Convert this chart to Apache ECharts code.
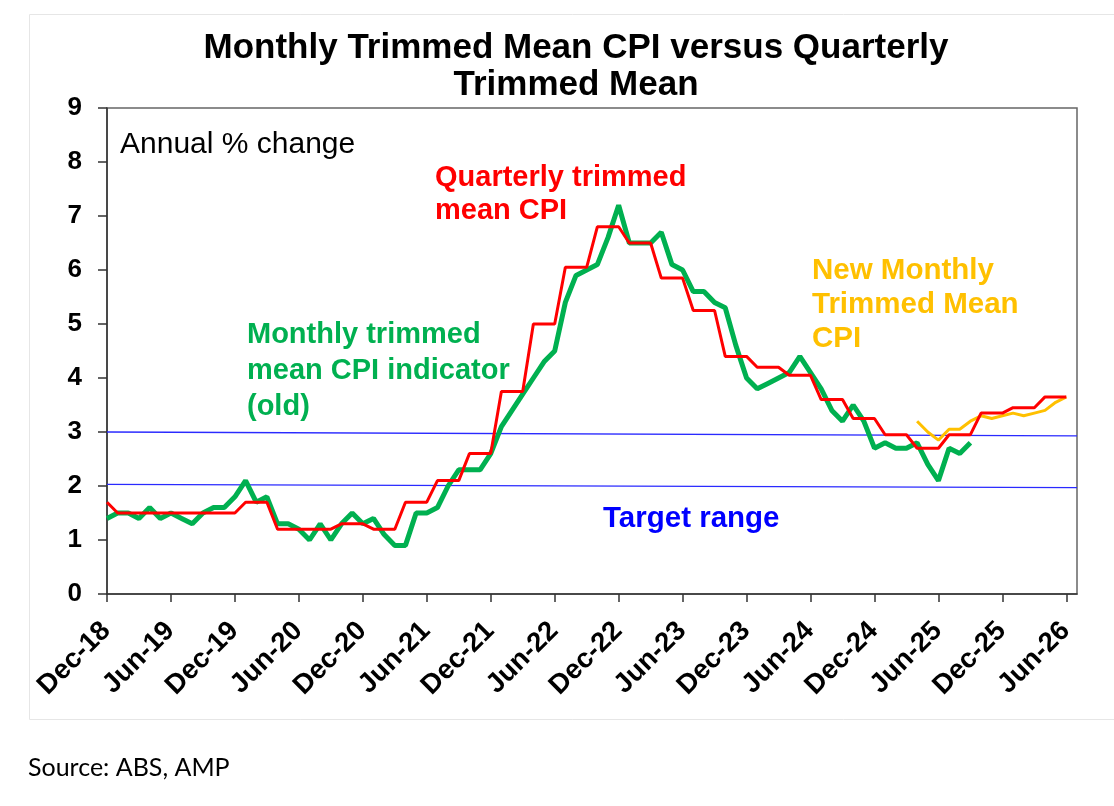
<!DOCTYPE html>
<html>
<head>
<meta charset="utf-8">
<title>Monthly Trimmed Mean CPI versus Quarterly Trimmed Mean</title>
<script src="https://cdn.jsdelivr.net/npm/echarts@6/dist/echarts.min.js"></script>
<style>
  html, body { margin: 0; padding: 0; background: #fff; }
  #main { width: 1114px; height: 806px; }
</style>
</head>
<body>
<div id="main"></div>
<script>
// months on the x axis, Dec-18 .. Jul-26 (last one is just axis room)
var months = [
  'Dec-18',
  'Jan-19','Feb-19','Mar-19','Apr-19','May-19','Jun-19','Jul-19','Aug-19','Sep-19','Oct-19','Nov-19','Dec-19',
  'Jan-20','Feb-20','Mar-20','Apr-20','May-20','Jun-20','Jul-20','Aug-20','Sep-20','Oct-20','Nov-20','Dec-20',
  'Jan-21','Feb-21','Mar-21','Apr-21','May-21','Jun-21','Jul-21','Aug-21','Sep-21','Oct-21','Nov-21','Dec-21',
  'Jan-22','Feb-22','Mar-22','Apr-22','May-22','Jun-22','Jul-22','Aug-22','Sep-22','Oct-22','Nov-22','Dec-22',
  'Jan-23','Feb-23','Mar-23','Apr-23','May-23','Jun-23','Jul-23','Aug-23','Sep-23','Oct-23','Nov-23','Dec-23',
  'Jan-24','Feb-24','Mar-24','Apr-24','May-24','Jun-24','Jul-24','Aug-24','Sep-24','Oct-24','Nov-24','Dec-24',
  'Jan-25','Feb-25','Mar-25','Apr-25','May-25','Jun-25','Jul-25','Aug-25','Sep-25','Oct-25','Nov-25','Dec-25',
  'Jan-26','Feb-26','Mar-26','Apr-26','May-26','Jun-26','Jul-26'
];

// labels shown every 6 months
var tickLabels = ['Dec-18','Jun-19','Dec-19','Jun-20','Dec-20','Jun-21','Dec-21','Jun-22',
  'Dec-22','Jun-23','Dec-23','Jun-24','Dec-24','Jun-25','Dec-25','Jun-26'];

// old monthly trimmed mean CPI indicator, Dec-18 .. Sep-25
var monthlyOld = [
  1.4,
  1.5, 1.5, 1.4, 1.6, 1.4, 1.5, 1.4, 1.3, 1.5, 1.6, 1.6, 1.8,
  2.1, 1.7, 1.8, 1.3, 1.3, 1.2, 1.0, 1.3, 1.0, 1.3, 1.5, 1.3,
  1.4, 1.1, 0.9, 0.9, 1.5, 1.5, 1.6, 2.0, 2.3, 2.3, 2.3, 2.6,
  3.1, 3.4, 3.7, 4.0, 4.3, 4.5, 5.4, 5.9, 6.0, 6.1, 6.6, 7.2,
  6.5, 6.5, 6.5, 6.7, 6.1, 6.0, 5.6, 5.6, 5.4, 5.3, 4.6, 4.0,
  3.8, 3.9, 4.0, 4.1, 4.4, 4.1, 3.8, 3.4, 3.2, 3.5, 3.2, 2.7,
  2.8, 2.7, 2.7, 2.8, 2.4, 2.1, 2.7, 2.6, 2.8
];

// quarterly trimmed mean, each quarter held over its three months
var quarterly = [
  1.7,
  1.5, 1.5, 1.5, 1.5, 1.5, 1.5, 1.5, 1.5, 1.5, 1.5, 1.5, 1.5,
  1.7, 1.7, 1.7, 1.2, 1.2, 1.2, 1.2, 1.2, 1.2, 1.3, 1.3, 1.3,
  1.2, 1.2, 1.2, 1.7, 1.7, 1.7, 2.1, 2.1, 2.1, 2.6, 2.6, 2.6,
  3.75, 3.75, 3.75, 5.0, 5.0, 5.0, 6.05, 6.05, 6.05, 6.8, 6.8, 6.8,
  6.5, 6.5, 6.5, 5.85, 5.85, 5.85, 5.25, 5.25, 5.25, 4.4, 4.4, 4.4,
  4.2, 4.2, 4.2, 4.05, 4.05, 4.05, 3.6, 3.6, 3.6, 3.25, 3.25, 3.25,
  2.95, 2.95, 2.95, 2.7, 2.7, 2.7, 2.95, 2.95, 2.95, 3.35, 3.35, 3.35,
  3.45, 3.45, 3.45, 3.65, 3.65, 3.65
];

// new monthly trimmed mean CPI, Apr-25 .. Jun-26
var newMonthlyStart = 'Apr-25';
var newMonthly = [3.2, 3.0, 2.85, 3.05, 3.05, 3.2, 3.3, 3.25, 3.3, 3.35, 3.3, 3.35, 3.4, 3.55, 3.65];

// RBA target band (drawn slightly sloping as in the source)
var targetTop = [3.0, 2.93];
var targetBottom = [2.03, 1.97];

var yTicks = [0, 1, 2, 3, 4, 5, 6, 7, 8, 9];

// pad the new series so it sits on the right months
var newData = [];
var off = months.indexOf(newMonthlyStart);
for (var i = 0; i < off; i++) newData.push(null);
newData = newData.concat(newMonthly);

var lastMonth = months[months.length - 1];

var myChart = echarts.init(document.getElementById('main'));

var bold = 'bold';
var ff = 'Arial, "Liberation Sans", sans-serif';

var option = {
  animation: false,
  backgroundColor: '#fff',
  title: {
    text: 'Monthly Trimmed Mean CPI versus Quarterly\nTrimmed Mean',
    left: 571,
    top: 25,
    textAlign: 'center',
    textStyle: {
      fontFamily: ff,
      fontWeight: bold,
      fontSize: 35,
      lineHeight: 37,
      color: '#000'
    }
  },
  grid: {
    left: 107,
    right: 37,
    top: 108,
    bottom: 212,
    show: true,
    borderColor: '#666',
    borderWidth: 1.5
  },
  xAxis: {
    type: 'category',
    data: months,
    boundaryGap: false,
    axisLine: { lineStyle: { color: '#333', width: 1.5 } },
    axisTick: {
      show: true,
      length: 8,
      inside: false,
      interval: function (idx, val) { return tickLabels.indexOf(val) >= 0; },
      lineStyle: { color: '#333', width: 1.5 }
    },
    axisLabel: {
      interval: function (idx, val) { return tickLabels.indexOf(val) >= 0; },
      rotate: 45,
      align: 'right',
      verticalAlign: 'top',
      margin: 12,
      padding: [0, 15, 0, 0],
      fontFamily: ff,
      fontWeight: bold,
      fontSize: 27.5,
      color: '#000'
    },
    splitLine: { show: false }
  },
  yAxis: {
    type: 'value',
    min: yTicks[0],
    max: yTicks[yTicks.length - 1],
    interval: 1,
    axisLine: { show: true, lineStyle: { color: '#333', width: 1.5 } },
    axisTick: { show: true, length: 9, lineStyle: { color: '#333', width: 1.5 } },
    axisLabel: {
      margin: 25,
      fontFamily: ff,
      fontWeight: bold,
      fontSize: 26,
      color: '#000'
    },
    splitLine: { show: false }
  },
  series: [
    {
      name: 'Target top',
      type: 'line',
      data: [[months[0], targetTop[0]], [lastMonth, targetTop[1]]],
      symbol: 'none',
      lineStyle: { color: '#2a2aff', width: 1.3 },
      z: 1
    },
    {
      name: 'Target bottom',
      type: 'line',
      data: [[months[0], targetBottom[0]], [lastMonth, targetBottom[1]]],
      symbol: 'none',
      lineStyle: { color: '#2a2aff', width: 1.3 },
      z: 1
    },
    {
      name: 'Monthly trimmed mean CPI indicator (old)',
      type: 'line',
      data: monthlyOld,
      symbol: 'none',
      lineStyle: { color: '#00B050', width: 5 },
      z: 2
    },
    {
      name: 'New Monthly Trimmed Mean CPI',
      type: 'line',
      data: newData,
      symbol: 'none',
      lineStyle: { color: '#FFC000', width: 3 },
      z: 3
    },
    {
      name: 'Quarterly trimmed mean CPI',
      type: 'line',
      data: quarterly,
      symbol: 'none',
      lineStyle: { color: '#FF0000', width: 3 },
      z: 4
    }
  ],
  graphic: [
    // faint chart-area frame
    {
      type: 'rect',
      left: 27, top: 12,
      shape: { width: 1100, height: 705 },
      style: { fill: 'none', stroke: '#e6e6e6', lineWidth: 1 },
      silent: true, z: -1
    },
    {
      type: 'text', left: 120, top: 130,
      style: { text: 'Annual % change', font: '30px ' + ff, fill: '#000' }
    },
    {
      type: 'text', left: 435, top: 161,
      style: { text: 'Quarterly trimmed\nmean CPI', font: 'bold 29px ' + ff, lineHeight: 33, fill: '#FF0000' }
    },
    {
      type: 'text', left: 247, top: 317,
      style: { text: 'Monthly trimmed\nmean CPI indicator\n(old)', font: 'bold 29px ' + ff, lineHeight: 36, fill: '#00B050' }
    },
    {
      type: 'text', left: 812, top: 254,
      style: { text: 'New Monthly\nTrimmed Mean\nCPI', font: 'bold 29.5px ' + ff, lineHeight: 34, fill: '#FFC000' }
    },
    {
      type: 'text', left: 603, top: 504,
      style: { text: 'Target range', font: 'bold 29.5px ' + ff, fill: '#0000FF' }
    },
    {
      type: 'text', left: 28, top: 755,
      style: { text: 'Source: ABS, AMP', font: '25px Lato, "Open Sans", sans-serif', fill: '#000' }
    }
  ]
};

myChart.setOption(option);
</script>
</body>
</html>
